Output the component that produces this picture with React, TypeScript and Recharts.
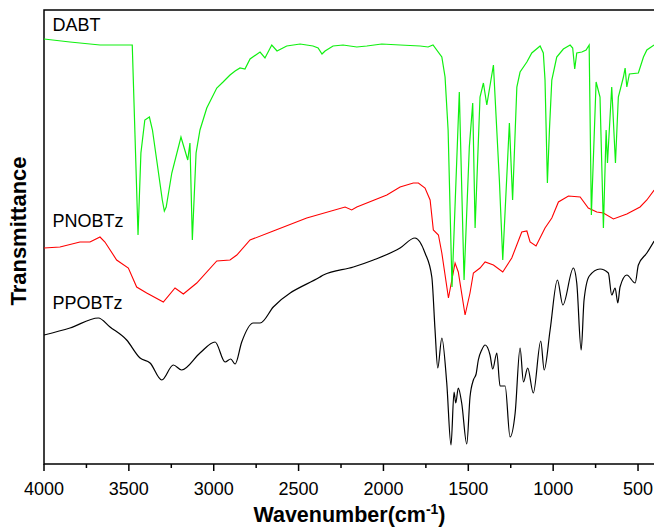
import { Line, LineChart, ReferenceArea, ReferenceDot, XAxis, YAxis } from "recharts";

// wavenumber grid for the bottom axis (majors every 500, minors every 250)
const wavenumberTicks = [
  4000, 3750, 3500, 3250, 3000, 2750, 2500, 2250, 2000, 1750, 1500, 1250, 1000, 750, 500,
];

// DABT
const dabtWave = [
  4000, 3847, 3670, 3480, 3446, 3429, 3406, 3379, 3361, 3336, 3303, 3291, 3280, 3247, 3193,
  3153, 3140, 3126, 3104, 3081, 3041, 2982, 2945, 2904, 2874, 2845, 2816, 2786, 2727, 2698,
  2658, 2627, 2570, 2491, 2415, 2385, 2362, 2344, 2297, 2238, 2157, 2098, 2010, 1902, 1784,
  1737, 1708, 1656, 1637, 1619, 1596, 1553, 1525, 1494, 1474, 1460, 1431, 1411, 1391, 1352,
  1317, 1297, 1258, 1239, 1214, 1195, 1155, 1126, 1077, 1058, 1048, 1034, 1022, 1008, 979,
  940, 900, 885, 873, 861, 831, 806, 788, 775, 747, 724, 704, 688, 680, 655, 633, 616, 586,
  576, 566, 551, 498, 468, 448, 405,
];
const dabtT = [
  425, 422, 419, 419, 229, 311, 344, 347, 334, 304, 264, 253, 257, 291, 327, 304, 321, 224,
  311, 334, 356, 376, 382, 389, 393, 396, 395, 405, 412, 406, 419, 413, 418, 420, 418, 416,
  410, 413, 418, 419, 417, 418, 420, 419, 418, 417, 419, 407, 387, 334, 177, 372, 184, 317,
  361, 236, 367, 381, 359, 399, 284, 204, 341, 264, 377, 392, 402, 411, 418, 411, 384, 281,
  334, 384, 407, 415, 419, 416, 395, 411, 412, 414, 419, 249, 382, 367, 236, 334, 301, 377,
  301, 367, 387, 396, 377, 390, 391, 407, 414, 419,
];

// PNOBTz
const pnobtzWave = [
  4000, 3906, 3788, 3729, 3670, 3641, 3572, 3503, 3454, 3395, 3297, 3228, 3179, 3100, 2982,
  2904, 2864, 2786, 2649, 2452, 2226, 2187, 2157, 1980, 1902, 1824, 1794, 1755, 1725, 1706,
  1676, 1656, 1617, 1578, 1559, 1519, 1490, 1470, 1431, 1401, 1352, 1297, 1244, 1185, 1155,
  1136, 1101, 1048, 1008, 969, 910, 841, 793, 743, 704, 645, 566, 488, 448, 405,
];
const pnobtzT = [
  216, 217, 222, 222, 227, 222, 204, 196, 177, 171, 162, 176, 170, 181, 203, 204, 209, 224,
  233, 246, 257, 254, 257, 269, 277, 281, 281, 276, 264, 234, 229, 211, 166, 201, 192, 149,
  171, 191, 196, 202, 199, 192, 206, 232, 233, 222, 218, 236, 246, 262, 268, 267, 256, 252,
  251, 245, 250, 257, 264, 274,
];

// PPOBTz
const ppobtzWave = [
  4000, 3847, 3680, 3611, 3513, 3434, 3375, 3306, 3238, 3189, 3081, 2992, 2933, 2900, 2874,
  2835, 2767, 2727, 2649, 2374, 2354, 2177, 2059, 1902, 1814, 1755, 1715, 1696, 1680, 1656,
  1627, 1602, 1584, 1574, 1559, 1539, 1509, 1490, 1470, 1454, 1441, 1421, 1401, 1372, 1356,
  1332, 1313, 1283, 1254, 1224, 1195, 1175, 1150, 1117, 1073, 1053, 1018, 975, 943, 881, 861,
  835, 818, 787, 724, 675, 655, 635, 619, 606, 566, 517, 498, 448, 405,
];
const ppobtzT = [
  129, 136, 146, 137, 124, 106, 101, 84, 99, 94, 111, 122, 102, 105, 100, 122, 141, 141, 157,
  187, 189, 197, 204, 216, 226, 211, 187, 134, 96, 126, 81, 19, 72, 61, 76, 61, 20, 67, 84,
  90, 104, 114, 119, 109, 95, 111, 78, 78, 27, 51, 116, 82, 96, 71, 123, 94, 134, 184, 159,
  196, 181, 114, 164, 188, 195, 191, 169, 176, 161, 177, 189, 181, 199, 211, 223,
];

// where each spectrum's name sits (wavenumber, transmittance of the text baseline)
const seriesNames = ["DABT", "PNOBTz", "PPOBTz"];
const nameWave = [3950, 3950, 3950];
const nameT = [433, 237, 155];

const toPoints = (w: number[], t: number[]) => w.map((x, i) => ({ w: x, t: t[i] }));

const dabt = toPoints(dabtWave, dabtT);
const pnobtz = toPoints(pnobtzWave, pnobtzT);
const ppobtz = toPoints(ppobtzWave, ppobtzT);

const FONT = "'Liberation Sans', Arial, sans-serif";

function WaveTick(props: any) {
  const { x, y, payload } = props;
  const major = payload.value % 500 === 0;
  return (
    <g>
      <line x1={x} x2={x} y1={y} y2={y + (major ? 7 : 4)} stroke="#000" strokeWidth={1.5} />
      {major && (
        <text x={x} y={y + 31} textAnchor="middle" fontSize={18} fontFamily={FONT} fill="#000">
          {payload.value}
        </text>
      )}
    </g>
  );
}

function XTitle(props: any) {
  const { x, y, width } = props.viewBox;
  return (
    <text
      x={x + width / 2}
      y={y + 58}
      textAnchor="middle"
      fontSize={21.5}
      fontWeight="bold"
      fontFamily={FONT}
      fill="#000"
    >
      Wavenumber(cm
      <tspan dy={-8} fontSize={14}>
        -1
      </tspan>
      <tspan dy={8}>)</tspan>
    </text>
  );
}

function YTitle(props: any) {
  const { x, y, height } = props.viewBox;
  const cx = x + 26;
  const cy = y + height / 2 - 6;
  return (
    <text
      x={cx}
      y={cy}
      transform={`rotate(-90 ${cx} ${cy})`}
      textAnchor="middle"
      fontSize={22}
      fontWeight="bold"
      fontFamily={FONT}
      fill="#000"
    >
      Transmittance
    </text>
  );
}

function NameLabel(text: string) {
  return (props: any) => {
    const { x, y } = props.viewBox;
    return (
      <text x={x} y={y} fontSize={18} fontFamily={FONT} fill="#000">
        {text}
      </text>
    );
  };
}

export default function App() {
  return (
    <div
      style={{
        position: "absolute",
        left: 0,
        top: 0,
        width: 654,
        height: 528,
        overflow: "hidden",
        background: "#fff",
      }}
    >
      <LineChart width={660} height={528} margin={{ top: 10, right: 5, bottom: 0, left: 0 }}>
        <XAxis
          dataKey="w"
          type="number"
          domain={[400, 4000]}
          reversed
          allowDataOverflow
          ticks={wavenumberTicks}
          interval={0}
          tickSize={0}
          tickMargin={0}
          tickLine={false}
          axisLine={false}
          tick={<WaveTick />}
          height={64}
          label={<XTitle />}
        />
        <YAxis
          dataKey="t"
          type="number"
          domain={[0, 454]}
          allowDataOverflow
          width={44}
          tick={false}
          tickLine={false}
          axisLine={false}
          label={<YTitle />}
        />
        <Line
          data={ppobtz}
          dataKey="t"
          type="monotone"
          stroke="#000"
          strokeWidth={1.2}
          dot={false}
          isAnimationActive={false}
        />
        <Line
          data={pnobtz}
          dataKey="t"
          type="linear"
          stroke="#ff0000"
          strokeWidth={1.1}
          dot={false}
          isAnimationActive={false}
        />
        <Line
          data={dabt}
          dataKey="t"
          type="linear"
          stroke="#10f010"
          strokeWidth={1.2}
          dot={false}
          isAnimationActive={false}
        />
        {seriesNames.map((name, i) => (
          <ReferenceDot
            key={name}
            x={nameWave[i]}
            y={nameT[i]}
            r={0}
            fill="none"
            stroke="none"
            label={NameLabel(name)}
          />
        ))}
        <ReferenceArea
          x1={4000}
          x2={400}
          y1={0}
          y2={454}
          fill="none"
          fillOpacity={0}
          stroke="#000"
          strokeWidth={1.5}
        />
      </LineChart>
    </div>
  );
}
